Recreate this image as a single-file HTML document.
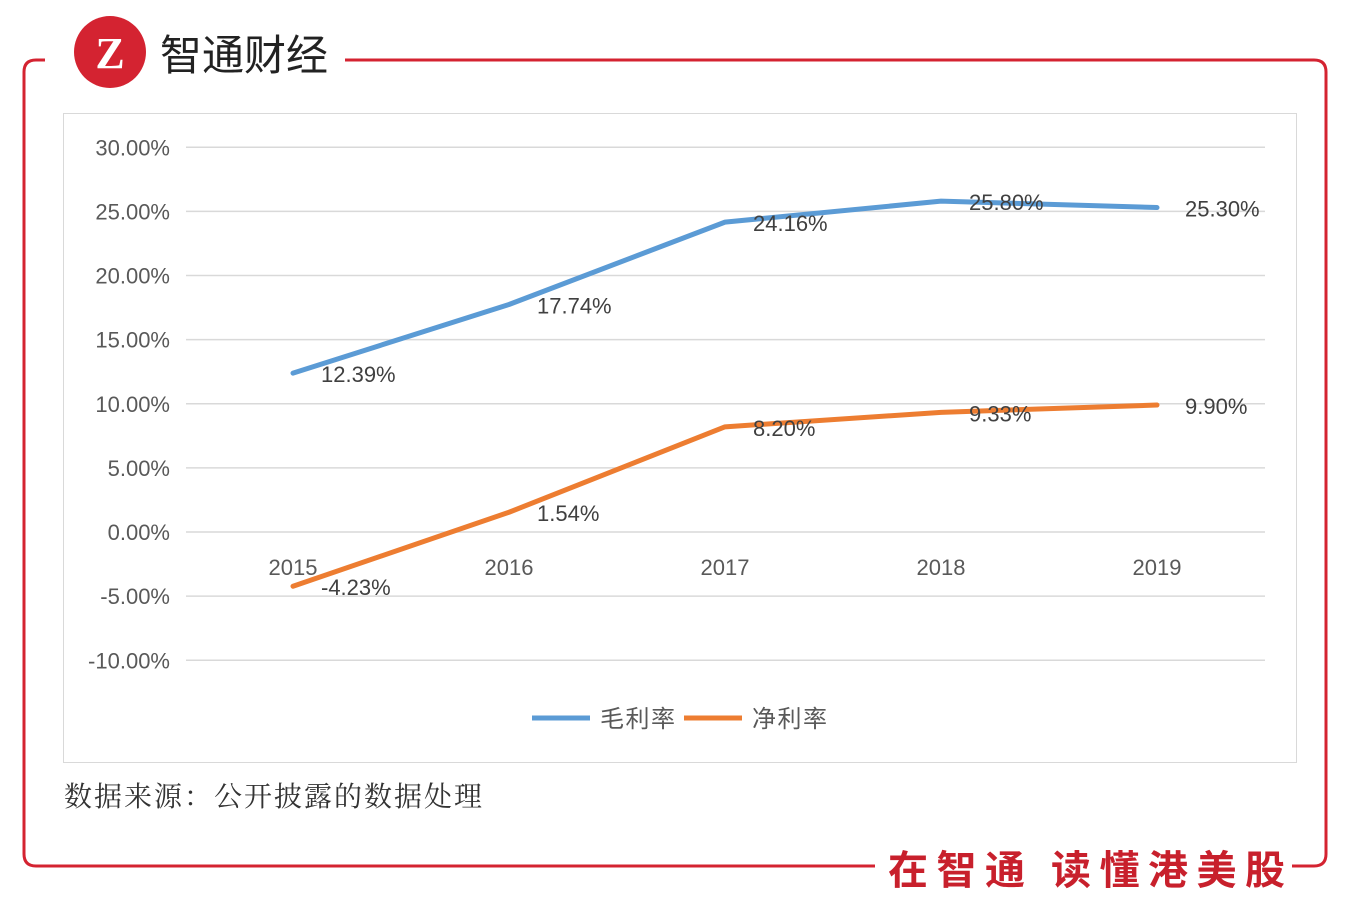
<!DOCTYPE html>
<html><head><meta charset="utf-8"><style>
body{margin:0;width:1350px;height:909px;background:#fff;overflow:hidden;font-family:"Liberation Sans","Noto Sans CJK SC",sans-serif}
</style></head><body>
<svg width="1350" height="909" style="position:absolute;left:0;top:0">
<path d="M45 60 H36 Q24 60 24 72 V854 Q24 866 36 866 H875" stroke="#d42331" stroke-width="3" fill="none"/>
<path d="M345 60 H1314 Q1326 60 1326 72 V854 Q1326 866 1314 866 H1292" stroke="#d42331" stroke-width="3" fill="none"/>
<circle cx="110" cy="52" r="36" fill="#d42331"/>
<text x="110" y="68" text-anchor="middle" font-size="44" font-weight="bold" fill="#fff" font-family="Liberation Serif,serif">Z</text>
<text x="160" y="70" font-size="42" fill="#222" textLength="168" font-family="Noto Sans CJK SC,sans-serif">智通财经</text>
<text x="888" y="884" font-size="40" font-weight="bold" fill="#c8202c" textLength="397" lengthAdjust="spacing" font-family="Noto Sans CJK SC,sans-serif">在智通 读懂港美股</text>
<rect x="63.5" y="113.5" width="1233" height="649" fill="#fff" stroke="#d9d9d9"/>
<g id="grid"></g><g id="series"></g>
<g>
<line x1="532" y1="718" x2="590" y2="718" stroke="#5b9bd5" stroke-width="5"/>
<text x="600" y="727" font-size="24" textLength="75" fill="#595959" font-family="Noto Sans CJK SC,sans-serif">毛利率</text>
<line x1="684" y1="718" x2="742" y2="718" stroke="#ed7d31" stroke-width="5"/>
<text x="752" y="727" font-size="24" textLength="75" fill="#595959" font-family="Noto Sans CJK SC,sans-serif">净利率</text>
</g>
<text x="64" y="806" font-size="28" fill="#333" textLength="418" font-family="Noto Serif CJK SC,serif">数据来源：公开披露的数据处理</text>
</svg>
<script>
const categories=["2015","2016","2017","2018","2019"];
const grossMargin=[12.39,17.74,24.16,25.80,25.30];
const netMargin=[-4.23,1.54,8.20,9.33,9.90];
const yTicks=[30,25,20,15,10,5,0,-5,-10];
const NS="http://www.w3.org/2000/svg";
const y=v=>532-(v)*(513/40);
const x=i=>293+i*216;
function mk(t,a,p){const e=document.createElementNS(NS,t);for(const k in a)e.setAttribute(k,a[k]);p.appendChild(e);return e;}
const g=document.getElementById('grid'),s=document.getElementById('series');
yTicks.forEach(v=>{
 const l=mk('line',{x1:186,x2:1265,y1:y(v),y2:y(v),stroke:'#d9d9d9','stroke-width':1.5},g);
 
 
 const t=mk('text',{x:170,y:y(v)+8,'text-anchor':'end','font-size':22,fill:'#595959'},g);
 t.textContent=v.toFixed(2)+'%';
 
 
});
categories.forEach((c,i)=>{
 const t=mk('text',{x:x(i),y:575,'text-anchor':'middle','font-size':22,fill:'#595959'},g);
 t.textContent=c;
 
 
});
[[grossMargin,'#5b9bd5','gross-margin-line'],[netMargin,'#ed7d31','net-margin-line']].forEach(([d,c,n])=>{
 const p=mk('polyline',{points:d.map((v,i)=>x(i)+','+y(v)).join(' '),fill:'none',stroke:c,'stroke-width':5,'stroke-linejoin':'round','stroke-linecap':'round'},s);
 
 
 d.forEach((v,i)=>{
  const t=mk('text',{x:x(i)+28,y:y(v)+9,'font-size':22,fill:'#404040'},s);
  t.textContent=v.toFixed(2)+'%';
  
  
 });
});
</script>
</body></html>
